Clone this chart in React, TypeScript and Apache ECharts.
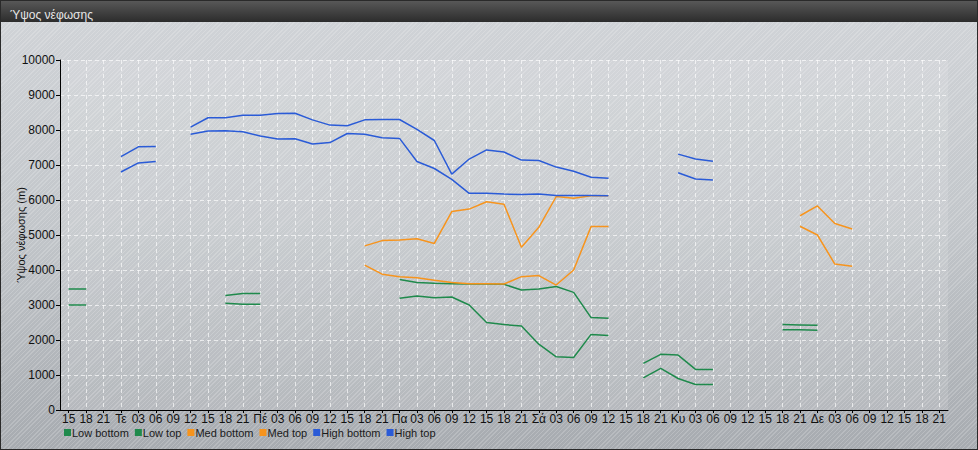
import React, { useEffect, useRef } from "react";
import * as echarts from "echarts";

const categories: string[] = [
  "15", "18", "21",
  "Τε", "03", "06", "09", "12", "15", "18", "21",
  "Πέ", "03", "06", "09", "12", "15", "18", "21",
  "Πα", "03", "06", "09", "12", "15", "18", "21",
  "Σά", "03", "06", "09", "12", "15", "18", "21",
  "Κυ", "03", "06", "09", "12", "15", "18", "21",
  "Δε", "03", "06", "09", "12", "15", "18", "21",
];

const N = null;

const lowBottom = [
  3000, 3000, N, N, N, N, N, N, N, 3050, 3020, 3020, N, N, N, N, N, N, N,
  3190, 3260, 3210, 3230, 3000, 2500, 2440, 2400, 1880, 1520, 1500, 2160, 2130,
  N, 920, 1190, 900, 730, 730, N, N, N, 2290, 2290, 2280, N, N, N, N, N, N, N,
];

const lowTop = [
  3460, 3460, N, N, N, N, N, N, N, 3270, 3330, 3330, N, N, N, N, N, N, N,
  3730, 3640, 3620, 3610, 3600, 3600, 3590, 3430, 3460, 3530, 3360, 2640, 2620,
  N, 1330, 1590, 1570, 1160, 1160, N, N, N, 2440, 2430, 2420, N, N, N, N, N, N, N,
];

const medBottom = [
  N, N, N, N, N, N, N, N, N, N, N, N, N, N, N, N, N,
  4140, 3880, 3810, 3780, 3710, 3640, 3610, 3610, 3600, 3810, 3840, 3570, 4000, 5240, 5240,
  N, N, N, N, N, N, N, N, N, N, 5250, 5000, 4170, 4110, N, N, N, N, N,
];

const medTop = [
  N, N, N, N, N, N, N, N, N, N, N, N, N, N, N, N, N,
  4690, 4840, 4860, 4890, 4760, 5670, 5740, 5950, 5880, 4650, 5220, 6100, 6050, 6120, 6120,
  N, N, N, N, N, N, N, N, N, N, 5550, 5830, 5330, 5170, N, N, N, N, N,
];

const highBottom = [
  N, N, N, 6800, 7060, 7100, N,
  7880, 7970, 7980, 7950, 7830, 7740, 7750, 7600, 7640, 7900, 7880, 7780, 7760,
  7100, 6900, 6590, 6190, 6190, 6170, 6160, 6170, 6130, 6130, 6130, 6120,
  N, N, N, 6780, 6600, 6570, N, N, N, N, N, N, N, N, N, N, N, N, N,
];

const highTop = [
  N, N, N, 7240, 7520, 7530, N,
  8080, 8350, 8350, 8420, 8420, 8470, 8480, 8290, 8140, 8120, 8290, 8300, 8300,
  8020, 7700, 6740, 7170, 7430, 7370, 7140, 7130, 6940, 6820, 6650, 6620,
  N, N, N, 7310, 7170, 7110, N, N, N, N, N, N, N, N, N, N, N, N, N,
];

const seriesNames = ["Low bottom", "Low top", "Med bottom", "Med top", "High bottom", "High top"];
const seriesData = [lowBottom, lowTop, medBottom, medTop, highBottom, highTop];
const seriesColors = ["#1f8a4c", "#1f8a4c", "#f7941d", "#f7941d", "#2a5bd7", "#2a5bd7"];

const FONT = "'Liberation Sans', Arial, sans-serif";

export default function App() {
  const ref = useRef<HTMLDivElement>(null);
  useEffect(() => {
    if (!ref.current) return;
    const chart = echarts.init(ref.current, null, { renderer: "svg" });
    chart.setOption({
      animation: false,
      textStyle: { fontFamily: FONT },
      title: {
        text: "Ύψος νέφωσης",
        left: 5,
        top: 4,
        textStyle: { color: "#e6e6e6", fontSize: 12, fontWeight: "normal", fontFamily: FONT },
      },
      graphic: [
        {
          type: "rect",
          left: 0,
          top: 0,
          z: -10,
          shape: { width: 978, height: 22 },
          style: {
            fill: new echarts.graphic.LinearGradient(0, 0, 0, 1, [
              { offset: 0, color: "#5a5a5a" },
              { offset: 1, color: "#2c2c2c" },
            ]),
          },
        },
      ],
      grid: {
        left: 60,
        right: 30,
        top: 60,
        bottom: 40,
        containLabel: false,
        outerBoundsMode: "none",
        show: true,
        backgroundColor: "rgba(255,255,255,0.12)",
        borderWidth: 0,
      } as any,
      legend: {
        left: 59,
        top: 422,
        icon: "rect",
        itemWidth: 7,
        itemHeight: 7,
        itemGap: 6,
        textStyle: { fontSize: 11, color: "#1a1a1a", fontFamily: FONT, padding: [0, 0, 0, -4] },
        data: seriesNames.map((n, i) => ({ name: n, itemStyle: { color: seriesColors[i] } })),
      },
      xAxis: {
        type: "category",
        data: categories,
        boundaryGap: true,
        axisLine: { show: true, lineStyle: { color: "#000", width: 1 } },
        axisTick: { show: true, alignWithLabel: true, interval: 0, length: 3, lineStyle: { color: "#000" } },
        axisLabel: { interval: 0, fontSize: 12, color: "#111", margin: 3, fontFamily: FONT },
        splitLine: {
          show: true,
          interval: 0,
          alignWithLabel: true,
          lineStyle: { color: "rgba(255,255,255,0.65)", type: [4, 3], width: 1 },
        },
      } as any,
      yAxis: {
        type: "value",
        min: 0,
        max: 10000,
        interval: 1000,
        name: "Ύψος νέφωσης (m)",
        nameLocation: "middle",
        nameGap: 34,
        nameMoveOverlap: false,
        nameTextStyle: { fontSize: 11, color: "#111", fontFamily: FONT },
        axisLine: { show: true, lineStyle: { color: "#000", width: 1 } },
        axisTick: { show: true, length: 4, lineStyle: { color: "#000" } },
        axisLabel: {
          fontSize: 12,
          color: "#111",
          margin: 5,
          fontFamily: FONT,
          formatter: (v: number) => String(v),
        },
        splitLine: { show: true, lineStyle: { color: "rgba(255,255,255,0.65)", type: [4, 3], width: 1 } },
      } as any,
      series: seriesNames.map((name, i) => ({
        name,
        type: "line",
        data: seriesData[i],
        showSymbol: false,
        symbol: "none",
        connectNulls: false,
        color: seriesColors[i],
        lineStyle: { color: seriesColors[i], width: 1.5 },
      })),
    });
    return () => chart.dispose();
  }, []);

  return (
    <div
      style={{
        position: "absolute",
        left: 0,
        top: 0,
        width: 978,
        height: 450,
        boxSizing: "border-box",
        border: "1px solid #2a2a2a",
        background:
          "repeating-linear-gradient(135deg, rgba(255,255,255,0.18) 0px, rgba(255,255,255,0.18) 1px, rgba(0,0,0,0) 1px, rgba(0,0,0,0) 3px), linear-gradient(180deg, #d1d4d8 0%, #c2c6ca 50%, #a7abb0 100%)",
        overflow: "hidden",
      }}
    >
      <div ref={ref} style={{ position: "absolute", left: -1, top: -1, width: 978, height: 450 }} />
    </div>
  );
}
